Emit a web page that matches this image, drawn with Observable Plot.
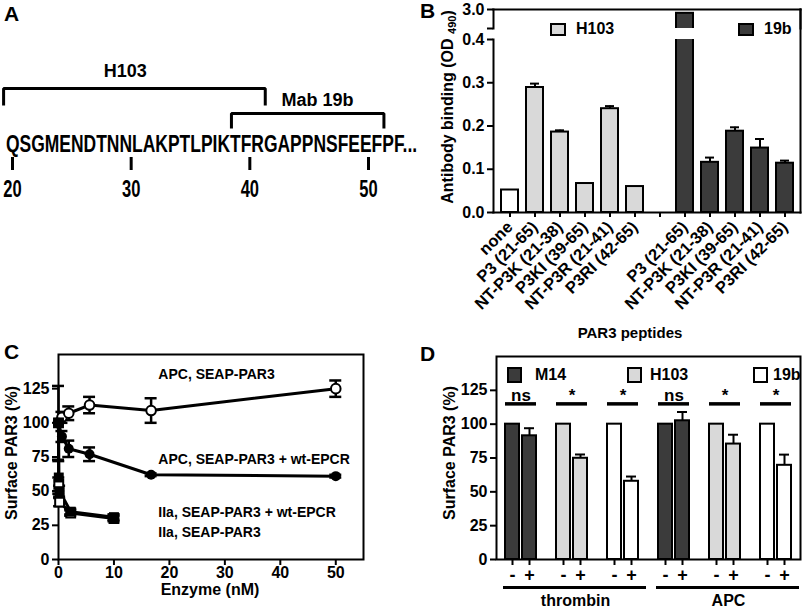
<!DOCTYPE html>
<html><head><meta charset="utf-8">
<script src="https://cdn.jsdelivr.net/npm/d3@7"></script>
<script src="https://cdn.jsdelivr.net/npm/@observablehq/plot@0.6"></script>
<style>
body{margin:0;background:#fff;}
#root{position:relative;width:805px;height:608px;overflow:hidden;background:#fff;font-family:'Liberation Sans',Arial,Helvetica,sans-serif;font-weight:bold;color:#000;}
.plabel{position:absolute;font-size:21px;line-height:21px;font-weight:bold;}
.leg{position:absolute;display:flex;align-items:center;height:16px;font-size:16px;line-height:16px;font-weight:bold;white-space:nowrap;}
.sw{box-sizing:border-box;border:2px solid #000;display:inline-block;}
.alab{position:absolute;white-space:nowrap;font-weight:bold;line-height:1;}
.alab sub{font-size:11px;vertical-align:-3px;line-height:0;}
svg{overflow:visible;}
</style></head><body><div id="root"></div>
<script>
// ---------------- DATA ----------------
// Panel A
const seqText = "QSGMENDTNNLAKPTLPIKTFRGAPPNSFEEFPF...";
const seqFirstResidue = 20;
const seqEndX = 54.1;
const residueTicks = [20, 30, 40, 50];
const bracketNames = ["H103", "Mab 19b"];
const bracketStart = [19.25, 38.45];
const bracketEnd = [41.3, 51.3];
const bracketRow = [2.2, 1.2];
const bracketLegBottom = [1.52, 0.6];
const bracketLabelX = [29.5, 45.7];
const bracketLabelRow = [2.88, 1.72];

// Panel B
const bPeptides = ["P3 (21-65)", "NT-P3K (21-38)", "P3KI (39-65)", "NT-P3R (21-41)", "P3RI (42-65)"];
const bNone = 0.052;
const bH103 = [0.289, 0.186, 0.067, 0.240, 0.060];
const bH103Err = [0.009, 0.004, 0, 0.006, 0];
const b19b = [2.99, 0.116, 0.188, 0.149, 0.114];
const b19bErr = [0, 0.011, 0.009, 0.021, 0.006];
const bTicks = [0, 0.1, 0.2, 0.3, 0.4];
const bTopDomain = [2.95, 3.0];
const bLegendNames = ["H103", "19b"];
const bYLabel = "Antibody binding (OD ";
const bYLabelSub = "490";
const bXLabel = "PAR3 peptides";

// Panel C
const cConcAPC = [0, 0.62, 1.85, 5.6, 16.7, 50];
const cAPC = [100, 104, 107, 113, 109, 125];
const cAPCErr = [27, 4, 5, 6, 9, 6];
const cAPCEPCR = [100, 90, 81, 77, 62, 61];
const cAPCEPCRErr = [0, 4, 6, 5, 1, 1];
const cConcIIa = [0, 0.05, 0.2, 2.2, 10];
const cIIaEPCR = [100, 60, 50, 35, 31];
const cIIaEPCRErr = [0, 12, 4, 2, 2];
const cIIa = [100, 55, 42, 34, 30];
const cIIaErr = [0, 5, 3, 2, 2];
const cSeriesNames = ["APC, SEAP-PAR3", "APC, SEAP-PAR3 + wt-EPCR", "IIa, SEAP-PAR3 + wt-EPCR", "IIa, SEAP-PAR3"];
const cLabelX = [18, 18, 18, 18];
const cLabelY = [135, 73.5, 34.4, 19.8];
const cXTicks = [0, 10, 20, 30, 40, 50];
const cYTicks = [0, 25, 50, 75, 100, 125];
const cXLabel = "Enzyme (nM)";
const cYLabel = "Surface PAR3 (%)";

// Panel D
const dAntibodies = ["M14", "H103", "19b"];
const dEnzymes = ["thrombin", "APC"];
const dMinus = [100, 100, 100, 100, 100, 100];
const dPlus = [91.4, 74.8, 57.8, 102.5, 85.3, 69.6];
const dPlusErr = [5.6, 2.8, 3.5, 6.5, 6.9, 7.9];
const dSigLabels = ["ns", "*", "*", "ns", "*", "*"];
const dSigY = 115;
const dEnzLineY = -20.7;
const dEnzTextY = -30.5;
const dYTicks = [0, 25, 50, 75, 100, 125];
const dYLabel = "Surface PAR3 (%)";

// ---------------- HELPERS ----------------
const FONT = "'Liberation Sans', Arial, Helvetica, sans-serif";
const root = document.getElementById("root");
const baseStyle = {fontFamily: FONT, fontWeight: "bold", fontSize: "15px", color: "#000", background: "transparent", overflow: "visible"};
function place(el, left, top) {
  el.style.position = "absolute";
  el.style.left = left + "px";
  el.style.top = top + "px";
  root.appendChild(el);
  return el;
}
function panelLabel(txt, left, top) {
  const d = document.createElement("div");
  d.className = "plabel"; d.textContent = txt;
  place(d, left, top);
}
function legendItem(name, color, left, top, w, h, gap) {
  const d = document.createElement("div");
  d.className = "leg";
  const sw = document.createElement("span");
  sw.className = "sw";
  sw.style.width = w + "px"; sw.style.height = h + "px"; sw.style.background = color;
  const t = document.createElement("span");
  t.textContent = name; t.style.marginLeft = gap + "px";
  d.append(sw, t);
  place(d, left, top);
}
function axisLabel(text, sub, cx, cy, size, vertical) {
  const d = document.createElement("div");
  d.className = "alab";
  d.style.fontSize = size + "px";
  d.append(document.createTextNode(text));
  if (sub) {
    const s = document.createElement("sub");
    s.textContent = sub;
    d.append(s, document.createTextNode(")"));
  }
  d.style.transform = "translate(-50%,-50%)" + (vertical ? " rotate(-90deg)" : "");
  place(d, cx, cy);
}

// ---------------- PANEL A ----------------
const aBrackets = bracketNames.map((name, i) => ({name, labelX: bracketLabelX[i], labelRow: bracketLabelRow[i]}));
const aBracketPts = bracketNames.flatMap((name, i) => [
  {name, x: bracketStart[i], y: bracketLegBottom[i]},
  {name, x: bracketStart[i], y: bracketRow[i]},
  {name, x: bracketEnd[i], y: bracketRow[i]},
  {name, x: bracketEnd[i], y: bracketLegBottom[i]}
]);
const aSeq = [{text: seqText, start: seqFirstResidue - 0.55, row: 0}];
const aPlot = Plot.plot({
  width: 420, height: 210, margin: 0,
  style: baseStyle,
  x: {domain: [20, 50], range: [12, 368], axis: null},
  y: {domain: [0, 1], range: [143, 118], axis: null},
  marks: [
    Plot.line(aBracketPts, {x: "x", y: "y", z: "name", stroke: "#000", strokeWidth: 3, strokeLinejoin: "miter", strokeLinecap: "butt"}),
    Plot.text(aBrackets, {x: "labelX", y: "labelRow", text: "name", fontSize: 18, fill: "#000"}),
    Plot.text(aSeq, {x: "start", y: "row", text: "text", textAnchor: "start", fontSize: 23, dy: 1.5, fill: "#000"}),
    Plot.ruleX(residueTicks, {x: d => d, y1: -0.56, y2: -1.08, stroke: "#000", strokeWidth: 3}),
    Plot.text(residueTicks, {x: d => d, y: -1.84, text: d => String(d), fontSize: 23, fill: "#000"})
  ]
});
place(aPlot, 0, 0);
{
  const xs = aPlot.scale("x");
  aPlot.querySelectorAll("text").forEach(t => {
    if (t.textContent === seqText) {
      t.setAttribute("textLength", (xs.apply(seqEndX) - xs.apply(seqFirstResidue - 0.55)).toFixed(1));
      t.setAttribute("lengthAdjust", "spacingAndGlyphs");
    } else if (residueTicks.map(String).includes(t.textContent)) {
      const L = t.getComputedTextLength();
      t.setAttribute("textLength", (L * 0.72).toFixed(1));
      t.setAttribute("lengthAdjust", "spacingAndGlyphs");
    }
  });
}

// ---------------- PANEL B ----------------
const bRows = [];
bRows.push({key: "H103|none", label: "none", series: "none", value: bNone, err: 0});
bPeptides.forEach((p, i) => bRows.push({key: "H103|" + p, label: p, series: "H103", value: bH103[i], err: bH103Err[i]}));
bRows.push({key: "gap", label: "", series: null, value: null, err: 0});
bPeptides.forEach((p, i) => bRows.push({key: "19b|" + p, label: p, series: "19b", value: b19b[i], err: b19bErr[i]}));
const bKeys = bRows.map(d => d.key);
const bBars = bRows.filter(d => d.series);
const bErrRows = bBars.filter(d => d.err > 0).map(d => ({...d, hi: d.value + d.err}));
const bLabelOf = new Map(bRows.map(d => [d.key, d.label]));
const bColor = {domain: ["none", "H103", "19b"], range: ["#ffffff", "#d9d9d9", "#3b3b3b"]};
const bX = {type: "band", domain: bKeys, paddingInner: 0.33, paddingOuter: 0.25};

const bLower = Plot.plot({
  width: 385, height: 330, marginLeft: 73, marginRight: 5, marginTop: 39, marginBottom: 118,
  style: baseStyle,
  x: bX, y: {domain: [0, 0.4]}, color: bColor,
  marks: [
    Plot.barY(bBars, {x: "key", y: "value", fill: "series", stroke: "#000", strokeWidth: 2, clip: true}),
    Plot.ruleX(bErrRows, {x: "key", y1: "value", y2: "hi", stroke: "#000", strokeWidth: 2}),
    Plot.ruleY(bErrRows, {x1: "key", x2: "key", y: "hi", insetLeft: 4, insetRight: 4, stroke: "#000", strokeWidth: 2}),
    Plot.frame({anchor: "left", stroke: "#000", strokeWidth: 2}),
    Plot.frame({anchor: "right", insetTop: -30, stroke: "#000", strokeWidth: 2}),
    Plot.frame({anchor: "bottom", stroke: "#000", strokeWidth: 2}),
    Plot.axisY({ticks: bTicks, tickFormat: d3.format(".1f"), tickSize: 6, strokeWidth: 2, fontSize: 16, label: null}),
    Plot.axisX({ticks: bKeys, tickFormat: k => bLabelOf.get(k), tickRotate: -45, tickSize: 5, strokeWidth: 2, fontSize: 16.5, label: null})
  ]
});
place(bLower, 420, 0);

const bUpper = Plot.plot({
  width: 385, height: 36, marginLeft: 73, marginRight: 5, marginTop: 9, marginBottom: 8,
  style: baseStyle,
  x: {...bX, axis: null}, y: {domain: bTopDomain}, color: bColor,
  marks: [
    Plot.barY(bBars, {x: "key", y: "value", fill: "series", stroke: "#000", strokeWidth: 2, clip: true}),
    Plot.frame({anchor: "top", stroke: "#000", strokeWidth: 2}),
    Plot.frame({anchor: "left", stroke: "#000", strokeWidth: 2}),
    Plot.frame({anchor: "right", stroke: "#000", strokeWidth: 2}),
    Plot.axisY({ticks: bTopDomain, tickFormat: d => d === bTopDomain[1] ? d3.format(".1f")(d) : "", tickSize: 6, strokeWidth: 2, fontSize: 16, label: null})
  ]
});
place(bUpper, 420, 0);
legendItem(bLegendNames[0], bColor.range[1], 550, 21, 16, 13, 10);
legendItem(bLegendNames[1], bColor.range[2], 738, 21, 16, 13, 10);
axisLabel(bYLabel, bYLabelSub, 448, 107, 16, true);
axisLabel(bXLabel, null, 630, 332, 15, false);

// ---------------- PANEL C ----------------
const cSeriesData = [
  {conc: cConcAPC, vals: cAPC, errs: cAPCErr},
  {conc: cConcAPC, vals: cAPCEPCR, errs: cAPCEPCRErr},
  {conc: cConcIIa, vals: cIIaEPCR, errs: cIIaEPCRErr},
  {conc: cConcIIa, vals: cIIa, errs: cIIaErr}
];
const cRows = cSeriesData.flatMap((s, si) => s.conc.map((c, i) => ({series: cSeriesNames[si], conc: c, value: s.vals[i], err: s.errs[i]})));
const cErr = cRows.filter(d => d.err > 0);
const cCaps = cErr.flatMap(d => [{conc: d.conc, y: d.value - d.err}, {conc: d.conc, y: d.value + d.err}]);
const cBy = name => cRows.filter(d => d.series === name);
const cLabels = cSeriesNames.map((name, i) => ({name, x: cLabelX[i], y: cLabelY[i]}));
const cPlot = Plot.plot({
  width: 420, height: 278, marginLeft: 58, marginRight: 57, marginTop: 24, marginBottom: 49,
  style: baseStyle,
  x: {domain: [0, 55]}, y: {domain: [0, 150]},
  marks: [
    Plot.frame({stroke: "#000", strokeWidth: 2}),
    Plot.line(cRows, {x: "conc", y: "value", z: "series", stroke: "#000", strokeWidth: 3}),
    Plot.ruleX(cErr, {x: "conc", y1: d => d.value - d.err, y2: d => d.value + d.err, stroke: "#000", strokeWidth: 2.5}),
    Plot.ruleY(cCaps, {x1: "conc", x2: "conc", y: "y", insetLeft: -6, insetRight: -6, stroke: "#000", strokeWidth: 2.5}),
    Plot.dot(cBy(cSeriesNames[0]), {x: "conc", y: "value", r: 4.8, fill: "#fff", stroke: "#000", strokeWidth: 2}),
    Plot.dot(cBy(cSeriesNames[1]), {x: "conc", y: "value", r: 5, fill: "#000"}),
    Plot.dot(cBy(cSeriesNames[3]), {x: "conc", y: "value", symbol: "square", r: 5, fill: "#fff", stroke: "#000", strokeWidth: 2}),
    Plot.dot(cBy(cSeriesNames[2]), {x: "conc", y: "value", symbol: "square", r: 5.6, fill: "#000"}),
    Plot.text(cLabels, {x: "x", y: "y", text: "name", textAnchor: "start", fontSize: 14, fill: "#000"}),
    Plot.axisX({ticks: cXTicks, tickSize: 6, tickPadding: 1, strokeWidth: 2, fontSize: 16, label: null}),
    Plot.axisY({ticks: cYTicks, tickSize: 6, strokeWidth: 2, fontSize: 16, label: null})
  ]
});
place(cPlot, 0, 330);
axisLabel(cYLabel, null, 12, 453, 16, true);
axisLabel(cXLabel, null, 210, 590, 16, false);

// ---------------- PANEL D ----------------
const dRows = [], dKeys = [], dSig = [];
dEnzymes.forEach((enz, ei) => dAntibodies.forEach((ab, ai) => {
  const idx = ei * dAntibodies.length + ai;
  if (idx > 0) dKeys.push("gap" + idx);
  const km = `${ab}|${enz}|-`, kp = `${ab}|${enz}|+`;
  dKeys.push(km, kp);
  dRows.push({key: km, ab, enz, sign: "-", value: dMinus[idx], err: 0});
  dRows.push({key: kp, ab, enz, sign: "+", value: dPlus[idx], err: dPlusErr[idx]});
  dSig.push({k1: km, k2: kp, label: dSigLabels[idx], y: dSigY});
}));
const dErr = dRows.filter(d => d.err > 0).map(d => ({...d, hi: d.value + d.err}));
const dEnz = dEnzymes.map(enz => ({enz, k1: `${dAntibodies[0]}|${enz}|-`, k2: `${dAntibodies[2]}|${enz}|+`, mid: `${dAntibodies[1]}|${enz}|+`, ly: dEnzLineY, ty: dEnzTextY}));
const dColor = {domain: dAntibodies, range: ["#3b3b3b", "#d9d9d9", "#ffffff"]};
const dPlot = Plot.plot({
  width: 385, height: 278, marginLeft: 76, marginRight: 5, marginTop: 26, marginBottom: 49,
  style: baseStyle,
  x: {type: "band", domain: dKeys, paddingInner: 0.18, paddingOuter: 0.5},
  y: {domain: [0, 150]}, color: dColor,
  marks: [
    Plot.frame({stroke: "#000", strokeWidth: 2}),
    Plot.barY(dRows, {x: "key", y: "value", fill: "ab", stroke: "#000", strokeWidth: 2}),
    Plot.ruleX(dErr, {x: "key", y1: "value", y2: "hi", stroke: "#000", strokeWidth: 2}),
    Plot.ruleY(dErr, {x1: "key", x2: "key", y: "hi", insetLeft: 2, insetRight: 2, stroke: "#000", strokeWidth: 2}),
    Plot.ruleY(dSig, {x1: "k1", x2: "k2", y: "y", stroke: "#000", strokeWidth: 3.5}),
    Plot.text(dSig, {x: "k1", y: "y", text: "label", dx: 8.5, dy: -3, lineAnchor: "bottom", fontSize: 17, fill: "#000"}),
    Plot.ruleY(dEnz, {x1: "k1", x2: "k2", y: "ly", insetLeft: -2, insetRight: -8, stroke: "#000", strokeWidth: 3}),
    Plot.text(dEnz, {x: "mid", y: "ty", text: "enz", dx: -5, fontSize: 16, fill: "#000"}),
    Plot.axisX({ticks: dRows.map(d => d.key), tickFormat: k => k.split("|")[2], tickSize: 6, strokeWidth: 2, fontSize: 18, label: null}),
    Plot.axisY({ticks: dYTicks, tickSize: 6, strokeWidth: 2, fontSize: 16, label: null})
  ]
});
place(dPlot, 420, 330);
axisLabel(dYLabel, null, 450, 453, 16, true);
const dLegLeft = [507, 627, 753];
const dLegGap = [13, 8, 5];
dAntibodies.forEach((ab, i) => legendItem(ab, dColor.range[i], dLegLeft[i], 367, 15, 16, dLegGap[i]));

// ---------------- PANEL LETTERS ----------------
panelLabel("A", 4, 3);
panelLabel("B", 420, 0);
panelLabel("C", 4, 341);
panelLabel("D", 420, 343);
</script></body></html>
